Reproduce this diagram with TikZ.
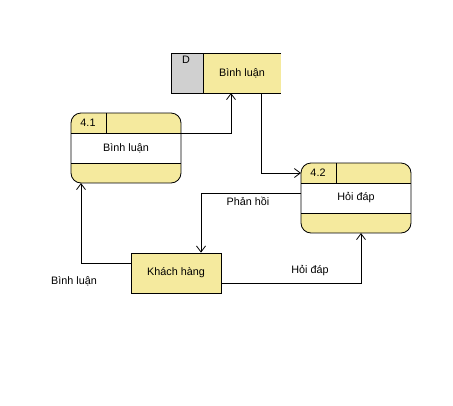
\documentclass[tikz,border=0pt]{standalone}
\usepackage{fontspec}
\setmainfont{Liberation Sans}
\usetikzlibrary{arrows.meta}
\definecolor{dfdyellow}{HTML}{F5EA9E}
\definecolor{dfdgray}{HTML}{D0D0D0}
\begin{document}
\begin{tikzpicture}[x=1pt,y=-1pt,
  lbl/.style={font=\fontsize{10.8}{13}\selectfont, inner sep=0pt},
  flow/.style={draw=black, line width=0.8pt, -{Straight Barb[length=6pt,width=9pt,line width=0.8pt]}},
  outline/.style={draw=black, line width=0.8pt}]
\useasboundingbox (0,0) rectangle (453,405);
% data store
\fill[dfdyellow] (203,53) rectangle (281,93);
\fill[dfdgray] (171,53) rectangle (203,93);
\draw[outline] (281,53) -- (171,53) -- (171,93) -- (281,93);
\draw[outline] (203,53) -- (203,93);
\node[lbl] (dsid) at (186,60) {D};
\node[lbl] (ds) at (242,73) {Bình luận};
\coordinate (dsin) at (231,93);
\coordinate (dsout) at (261,93);
% process 4.1
\begin{scope}
\clip[rounded corners=10pt] (71,113) rectangle (181,183);
\fill[dfdyellow] (71,113) rectangle (181,183);
\fill[white] (71,133) rectangle (181,163);
\end{scope}
\draw[outline, rounded corners=10pt] (71,113) rectangle (181,183);
\draw[outline] (71,133) -- (181,133) (71,163) -- (181,163) (106,113) -- (106,133);
\node[lbl] (p1id) at (88,123) {4.1};
\node[lbl] (p1) at (126,148) {Bình luận};
\coordinate (p1out) at (181,133);
\coordinate (p1in) at (81,183);
% process 4.2
\begin{scope}
\clip[rounded corners=10pt] (301,163) rectangle (411,233);
\fill[dfdyellow] (301,163) rectangle (411,233);
\fill[white] (301,183) rectangle (411,213);
\end{scope}
\draw[outline, rounded corners=10pt] (301,163) rectangle (411,233);
\draw[outline] (301,183) -- (411,183) (301,213) -- (411,213) (336,163) -- (336,183);
\node[lbl] (p2id) at (318,173) {4.2};
\node[lbl] (p2) at (356,198) {Hỏi đáp};
\coordinate (p2in) at (301,173);
\coordinate (p2out) at (301,193);
\coordinate (p2in2) at (361,233);
% external entity
\node[draw=black, line width=0.8pt, fill=dfdyellow, minimum width=90pt, minimum height=40pt, inner sep=0pt, font=\fontsize{10.8}{13}\selectfont] (kh) at (176,273) {Khách hàng};
% flows
\draw[flow] (p1out) -| (dsin);
\draw[flow] (dsout) |- (p2in);
\draw[flow] (p2out) -| (kh.north -| 201,0);
\draw[flow] (kh.west |- 0,263) -| (p1in);
\draw[flow] (kh.east |- 0,283) -| (p2in2);
% labels
\node[lbl] (l1) at (248,201) {Phản hồi};
\node[lbl] (l2) at (74,281) {Bình luận};
\node[lbl] (l3) at (310,271) {Hỏi đáp};
\end{tikzpicture}
\end{document}
